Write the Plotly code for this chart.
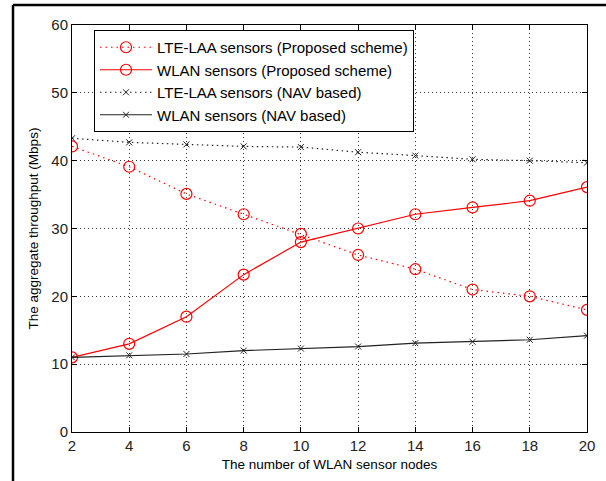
import plotly.graph_objects as go

nodes = [2, 4, 6, 8, 10, 12, 14, 16, 18, 20]
lte_proposed = [42.1, 39.1, 35.1, 32.1, 29.2, 26.1, 24.0, 21.0, 20.0, 18.0]
wlan_proposed = [11.0, 13.0, 17.0, 23.2, 28.0, 30.0, 32.1, 33.1, 34.1, 36.1]
lte_nav = [43.3, 42.7, 42.4, 42.1, 42.0, 41.25, 40.75, 40.2, 40.0, 39.7]
wlan_nav = [11.0, 11.3, 11.5, 12.0, 12.3, 12.6, 13.1, 13.3, 13.6, 14.2]
x_ticks = [2, 4, 6, 8, 10, 12, 14, 16, 18, 20]
y_ticks = [0, 10, 20, 30, 40, 50, 60]

names = ["LTE-LAA sensors (Proposed scheme)", "WLAN sensors (Proposed scheme)",
         "LTE-LAA sensors (NAV based)", "WLAN sensors (NAV based)"]

fig = go.Figure()
fig.add_trace(go.Scatter(x=nodes, y=lte_proposed, name=names[0], mode="lines+markers",
                         line=dict(color="#ff0000", width=1.2, dash="1.5px,4px"),
                         marker=dict(symbol="circle-open", size=11, color="#ff0000", line=dict(width=1.2))))
fig.add_trace(go.Scatter(x=nodes, y=wlan_proposed, name=names[1], mode="lines+markers",
                         line=dict(color="#ff0000", width=1.2),
                         marker=dict(symbol="circle-open", size=11, color="#ff0000", line=dict(width=1.2))))
fig.add_trace(go.Scatter(x=nodes, y=lte_nav, name=names[2], mode="lines+markers",
                         line=dict(color="#222222", width=1.2, dash="1.5px,3.5px"),
                         marker=dict(symbol="x-thin-open", size=6, color="#222222", line=dict(width=1))))
fig.add_trace(go.Scatter(x=nodes, y=wlan_nav, name=names[3], mode="lines+markers",
                         line=dict(color="#222222", width=1.2),
                         marker=dict(symbol="x-thin-open", size=6, color="#222222", line=dict(width=1))))

font_family = "Liberation Sans, Arial, sans-serif"
axis_common = dict(showline=True, linecolor="black", linewidth=1, mirror="ticks",
                   ticks="inside", ticklen=5, tickcolor="black",
                   showgrid=True, gridcolor="#333333", gridwidth=1, griddash="1px,3px",
                   zeroline=False, tickfont=dict(size=15, color="#222222", family=font_family))

fig.update_xaxes(range=[2, 20], tickvals=x_ticks, ticktext=[str(v) for v in x_ticks],
                 title=dict(text="The number of WLAN sensor nodes", standoff=6,
                            font=dict(size=13.5, color="black", family=font_family)),
                 **axis_common)
fig.update_yaxes(range=[0, 60], tickvals=y_ticks, ticktext=[str(v) for v in y_ticks],
                 **axis_common)

fig.update_layout(
    width=606, height=481,
    margin=dict(l=72, r=19, t=25, b=49),
    paper_bgcolor="white", plot_bgcolor="white",
    font=dict(family=font_family, size=13, color="black"),
    legend=dict(x=(94 - 72) / 515, y=(432 - 30) / 407, xanchor="left", yanchor="top",
                bgcolor="white", bordercolor="black", borderwidth=1,
                font=dict(size=15, color="black", family=font_family),
                tracegroupgap=0, itemwidth=52),
    annotations=[
        dict(text="The aggregate throughput (Mbps)", xref="paper", yref="paper",
             x=(33 - 72) / 515, y=0.5, xanchor="center", yanchor="middle",
             textangle=-90, showarrow=False,
             font=dict(size=13.5, color="black", family=font_family)),
    ],
    shapes=[
        dict(type="line", xref="paper", yref="paper", x0=(13 - 72) / 515, x1=(606 - 72) / 515,
             y0=(432 - 5) / 407, y1=(432 - 5) / 407, line=dict(color="black", width=2.5)),
        dict(type="line", xref="paper", yref="paper", x0=(13 - 72) / 515, x1=(13 - 72) / 515,
             y0=(432 - 5) / 407, y1=(432 - 481) / 407, line=dict(color="black", width=2.5)),
    ],
    showlegend=True,
)

fig.write_html("out.html")
